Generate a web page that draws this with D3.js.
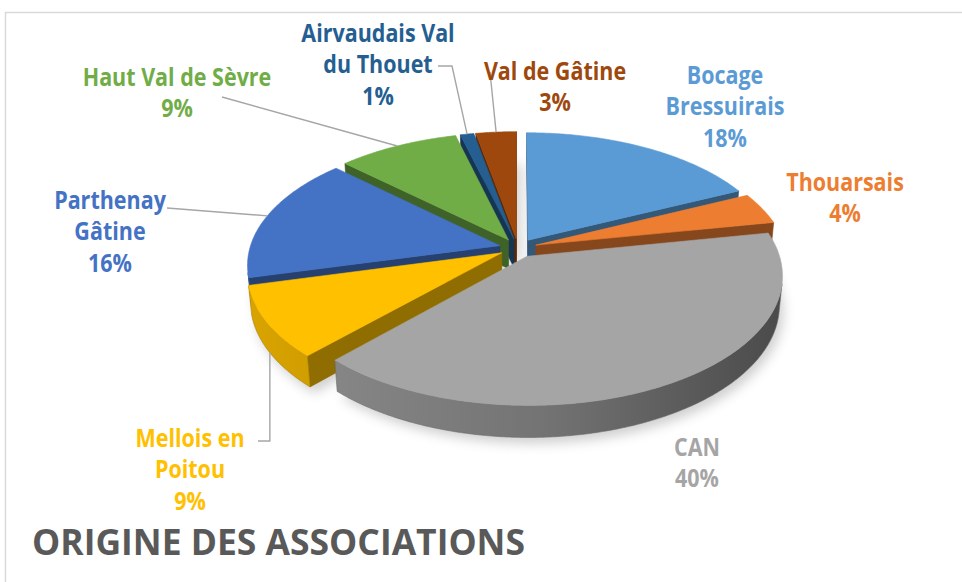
<!DOCTYPE html>
<html>
<head>
<meta charset="utf-8">
<title>Origine des associations</title>
<script src="https://d3js.org/d3.v7.min.js"></script>
<style>
  body { margin: 0; background: #fff; }
  svg { display: block; font-family: "Open Sans", sans-serif; }
</style>
</head>
<body>
<svg id="chart" width="962" height="582"></svg>
<script>
  // data
  names = ["Bocage\nBressuirais", "Thouarsais", "CAN", "Mellois en\nPoitou", "Parthenay\nGâtine", "Haut Val de Sèvre", "Airvaudais Val\ndu Thouet", "Val de Gâtine"];
  values = [18, 4, 40, 9, 16, 9, 1, 3];
  colours = ["#5b9bd5", "#ed7d31", "#a5a5a5", "#ffc000", "#4472c4", "#70ad47", "#255e91", "#9e480e"];
  title = "ORIGINE DES ASSOCIATIONS";

  // label layout (centre x, first line y) and leader lines
  labelPos = [[725, 75], [845, 182], [697, 447], [190, 438], [110, 200], [177, 77], [378, 33], [555, 71]];
  leaders = { 3: [[258, 441], "elbow"], 4: [[167, 208]], 5: [[222, 97]], 6: [[438, 66], [452, 66]], 7: [[490, 72]] };

  svg = d3.select("#chart");
  defs = svg.append("defs");

  // frame
  svg.append("rect")
    .attr("x", 5.5).attr("y", 12.5).attr("width", 1000).attr("height", 1000)
    .attr("fill", "none").attr("stroke", "#d9d9d9").attr("stroke-width", 1.5);

  // 3d projection
  alpha = 30 * Math.PI / 180;
  ca = Math.cos(alpha); sa = Math.sin(alpha);
  D = 6; F = 1500; H = 0.135; E = 0.075; cx = 518; cy = 248;
  cam = [0, D * sa, D * ca];
  function project(p) {
    let d = D - p[1] * sa - p[2] * ca;
    let up = p[1] * ca - p[2] * sa;
    return [cx + F * p[0] / d, cy - F * up / d];
  }
  function dist(p) {
    return Math.hypot(p[0] - cam[0], p[1] - cam[1], p[2] - cam[2]);
  }
  line = d3.line();

  arcs = d3.pie().sort(null).value(function(d) { return d; })(values);

  defs.append("filter").attr("id", "blur")
    .attr("x", "-20%").attr("y", "-20%").attr("width", "140%").attr("height", "140%")
    .append("feGaussianBlur").attr("stdDeviation", 6);

  faces = [];
  tops = [];
  shadows = [];
  slices = arcs.map(function(a, i) {
    let a0 = a.startAngle, a1 = a.endAngle, m = (a0 + a1) / 2;
    let ox = E * Math.sin(m), oz = -E * Math.cos(m);
    let pt = function(t, y) { return [ox + Math.sin(t), y, oz - Math.cos(t)]; };
    let n = Math.max(2, Math.ceil((a1 - a0) / 0.01));
    let thetas = d3.range(n + 1).map(function(k) { return a0 + (a1 - a0) * k / n; });
    let apexT = [ox, 0, oz], apexB = [ox, -H, oz];
    let base = d3.color(colours[i]);
    // gradient for outer wall
    let g = defs.append("linearGradient").attr("id", "side" + i)
      .attr("gradientUnits", "userSpaceOnUse")
      .attr("x1", 250).attr("x2", 790).attr("y1", 0).attr("y2", 0);
    g.append("stop").attr("offset", "0%").attr("stop-color", base.darker(0.45));
    g.append("stop").attr("offset", "55%").attr("stop-color", base.darker(1.0));
    g.append("stop").attr("offset", "100%").attr("stop-color", base.darker(2.3));
    // outer wall, visible part only
    let vis = thetas.filter(function(t) {
      let p = pt(t, 0);
      return Math.sin(t) * (cam[0] - p[0]) - Math.cos(t) * (cam[2] - p[2]) > 0;
    });
    if (vis.length > 1) {
      let pts = vis.map(function(t) { return project(pt(t, 0)); })
        .concat(vis.slice().reverse().map(function(t) { return project(pt(t, -H)); }));
      let mt = vis[Math.floor(vis.length / 2)];
      faces.push({ pts: pts, fill: "url(#side" + i + ")", stroke: base.darker(1.2), depth: dist(pt(mt, -H / 2)) });
    }
    // radial walls
    [[a0, [-Math.cos(a0), -Math.sin(a0)]], [a1, [Math.cos(a1), Math.sin(a1)]]].forEach(function(w) {
      let eT = pt(w[0], 0), eB = pt(w[0], -H);
      let c = [(ox + eT[0]) / 2, -H / 2, (oz + eT[2]) / 2];
      if (w[1][0] * (cam[0] - c[0]) + w[1][1] * (cam[2] - c[2]) > 0) {
        faces.push({ pts: [apexT, eT, eB, apexB].map(project), fill: base.darker(1.6), stroke: base.darker(1.6), depth: dist(c) });
      }
    });
    // top face
    tops.push({ pts: [project(apexT)].concat(thetas.map(function(t) { return project(pt(t, 0)); })), fill: base });
    shadows.push([project(apexB)].concat(thetas.map(function(t) { return project(pt(t, -H)); })));
    // leader anchor at mid angle
    let mp = pt(m, 0);
    let front = Math.sin(m) * (cam[0] - mp[0]) - Math.cos(m) * (cam[2] - mp[2]) > 0;
    return { anchor: project(pt(m, front ? -H : 0)), value: a.data };
  });

  pie = svg.append("g");
  pie.append("g").attr("filter", "url(#blur)").attr("opacity", 0.28)
    .attr("transform", "translate(4, 6)")
    .selectAll("path").data(shadows)
    .join("path").attr("d", function(d) { return line(d) + "Z"; }).attr("fill", "#555");

  faces.sort(function(a, b) { return b.depth - a.depth; });
  pie.append("g").selectAll("path").data(faces)
    .join("path")
    .attr("d", function(d) { return line(d.pts) + "Z"; })
    .attr("fill", function(d) { return d.fill; })
    .attr("stroke", function(d) { return d.stroke; })
    .attr("stroke-width", 0.6)
    .attr("stroke-linejoin", "round");
  pie.append("g").selectAll("path").data(tops)
    .join("path")
    .attr("d", function(d) { return line(d.pts) + "Z"; })
    .attr("fill", function(d) { return d.fill; })
    .attr("stroke", function(d) { return d.fill; })
    .attr("stroke-width", 0.6)
    .attr("stroke-linejoin", "round");

  // leader lines
  Object.keys(leaders).forEach(function(k) {
    let l = leaders[k], end = slices[k].anchor, pts;
    if (l[1] === "elbow") pts = [l[0], [end[0], l[0][1]], end];
    else pts = l.concat([end]);
    svg.append("path").attr("d", line(pts))
      .attr("fill", "none").attr("stroke", "#a6a6a6").attr("stroke-width", 1.4);
  });

  // labels (text is slightly stretched vertically, like the source image)
  stretch = 1.15;
  labels = svg.append("g").attr("font-weight", 700).attr("font-size", 21.5).attr("text-anchor", "middle");
  names.forEach(function(name, i) {
    let lines = name.split("\n").concat([d3.format(".0%")(values[i] / d3.sum(values))]);
    let t = labels.append("g")
      .attr("transform", "translate(" + labelPos[i][0] + "," + labelPos[i][1] + ") scale(1," + stretch + ")")
      .append("text").attr("fill", colours[i]);
    lines.forEach(function(s, j) {
      t.append("tspan").attr("x", 0).attr("y", j * 31.5 / stretch)
        .attr("dy", "0.35em").text(s);
    });
  });

  // title
  svg.append("text").attr("x", 32).attr("y", 543).attr("dy", "0.35em")
    .attr("font-size", 35).attr("font-weight", 700).attr("fill", "#595959")
    .attr("textLength", 493).attr("lengthAdjust", "spacingAndGlyphs")
    .text(title);
</script>
</body>
</html>
